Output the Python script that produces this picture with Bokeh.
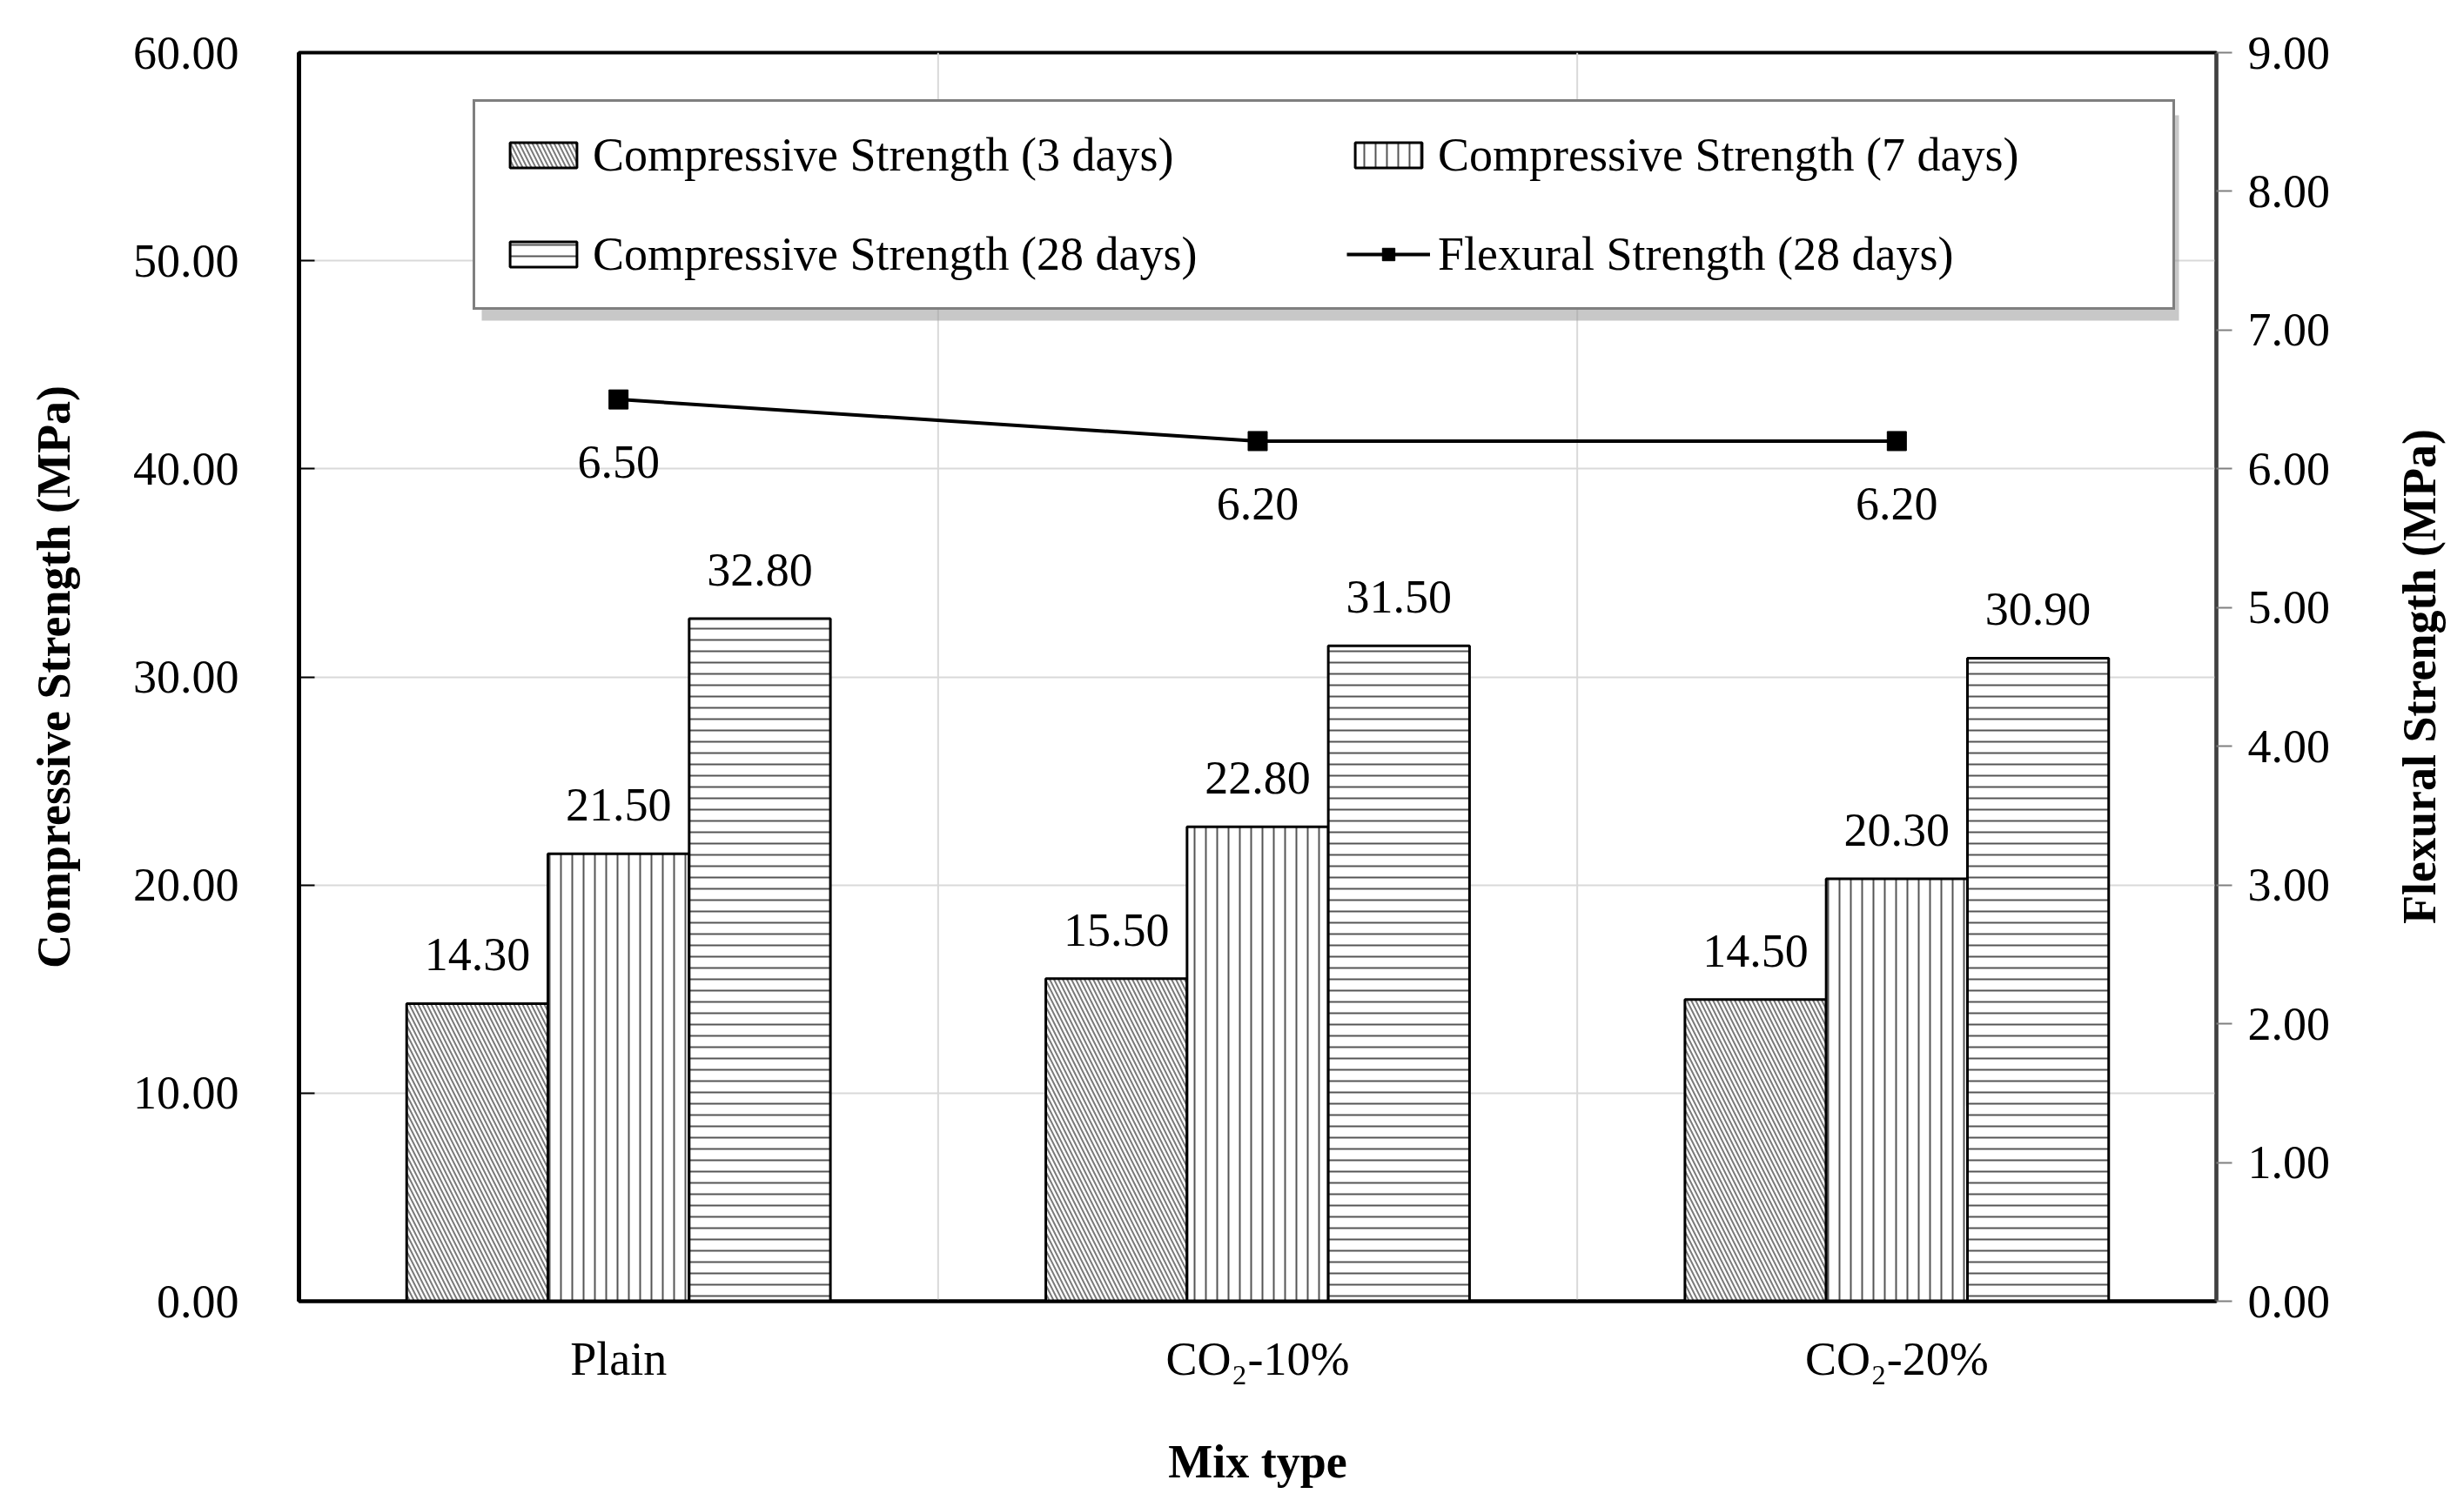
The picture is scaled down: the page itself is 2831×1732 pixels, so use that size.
import math
from bokeh.plotting import figure
from bokeh.layouts import row
from bokeh.models import (ColumnDataSource, FactorRange, Range1d, LinearAxis, FixedTicker,
                          PrintfTickFormatter, Legend, LegendItem, Span, Div, BoxAnnotation)
from bokeh.transform import dodge
from bokeh.core.properties import value
from bokeh.embed import file_html
from bokeh.resources import INLINE

categories = ["Plain", "CO₂-10%", "CO₂-20%"]
cs_3d = [14.30, 15.50, 14.50]
cs_7d = [21.50, 22.80, 20.30]
cs_28d = [32.80, 31.50, 30.90]
fs_28d = [6.50, 6.20, 6.20]
left_ticks = [0, 10, 20, 30, 40, 50, 60]
right_ticks = [0, 1, 2, 3, 4, 5, 6, 7, 8, 9]
series_names = ["Compressive Strength (3 days)", "Compressive Strength (7 days)",
                "Compressive Strength (28 days)", "Flexural Strength (28 days)"]
right_title = "Flexural Strength (MPa)"

FONT = "Liberation Serif"
FS = "54px"
BW = 0.221

PW, PH = 2700, 1714
ML, MR, MT, MB = 343, 154, 60, 219

src = ColumnDataSource(dict(
    cat=categories, d3=cs_3d, d7=cs_7d, d28=cs_28d, fs=fs_28d,
    l3=[f"{v:.2f}" for v in cs_3d], l7=[f"{v:.2f}" for v in cs_7d],
    l28=[f"{v:.2f}" for v in cs_28d], lfs=[f"{v:.2f}" for v in fs_28d],
))

p = figure(x_range=FactorRange(*categories), y_range=Range1d(0, 60),
           width=PW, height=PH, output_backend="svg", toolbar_location=None,
           min_border_left=ML, min_border_right=MR, min_border_top=MT, min_border_bottom=MB)
p.extra_y_ranges = {"right": Range1d(0, 9)}
p.outline_line_color = "black"
p.outline_line_width = 4
p.background_fill_color = "white"
p.border_fill_color = "white"

# grids
p.xgrid.grid_line_color = None
p.ygrid.grid_line_color = "#d9d9d9"
p.ygrid.grid_line_width = 2
p.ygrid.ticker = FixedTicker(ticks=left_ticks)
for i in range(1, len(categories)):
    p.add_layout(Span(location=i, dimension="height", line_color="#d9d9d9",
                      line_width=2, level="underlay"))

hatch_kw = dict(fill_color="white", line_color="black", line_width=3, hatch_weight=2)
b3 = p.vbar(x=dodge("cat", -BW, range=p.x_range), top="d3", width=BW, source=src,
            hatch_pattern="left_diagonal_line", hatch_scale=10, hatch_color="#7a7a7a", **hatch_kw)
b7 = p.vbar(x=dodge("cat", 0, range=p.x_range), top="d7", width=BW, source=src,
            hatch_pattern="vertical_line", hatch_scale=13, hatch_color="#555555", **hatch_kw)
b28 = p.vbar(x=dodge("cat", BW, range=p.x_range), top="d28", width=BW, source=src,
             hatch_pattern="horizontal_line", hatch_scale=13, hatch_color="#555555", **hatch_kw)

txt_kw = dict(text_align="center", text_baseline="middle", text_font=value(FONT),
              text_font_size=FS, text_color="black", source=src)
p.text(x=dodge("cat", -BW, range=p.x_range), y="d3", text="l3", y_offset=-56, **txt_kw)
p.text(x=dodge("cat", 0, range=p.x_range), y="d7", text="l7", y_offset=-56, **txt_kw)
p.text(x=dodge("cat", BW, range=p.x_range), y="d28", text="l28", y_offset=-56, **txt_kw)

fl = p.line(x="cat", y="fs", y_range_name="right", source=src, line_color="black", line_width=4)
fm = p.scatter(x="cat", y="fs", y_range_name="right", source=src, marker="square", size=22,
               fill_color="black", line_color="black")
p.text(x="cat", y="fs", text="lfs", y_range_name="right", y_offset=72, **txt_kw)

# left axis
ly = p.left[0]
ly.ticker = FixedTicker(ticks=left_ticks)
ly.formatter = PrintfTickFormatter(format="%.2f")
ly.axis_label = "Compressive Strength (MPa)"
ly.axis_label_text_font = FONT
ly.axis_label_text_font_style = "bold"
ly.axis_label_text_font_size = FS
ly.axis_label_text_color = "black"
ly.axis_label_standoff = 58
ly.major_label_text_font = FONT
ly.major_label_text_font_size = FS
ly.major_label_text_color = "black"
ly.major_label_standoff = 69
ly.major_tick_in = 18
ly.major_tick_out = 0
ly.major_tick_line_width = 2
ly.major_tick_line_color = "black"
ly.minor_tick_line_color = None
ly.axis_line_color = "black"
ly.axis_line_width = 5

# bottom axis
bx = p.below[0]
bx.axis_label = "Mix type"
bx.axis_label_text_font = FONT
bx.axis_label_text_font_style = "bold"
bx.axis_label_text_font_size = FS
bx.axis_label_text_color = "black"
bx.axis_label_standoff = 55
bx.major_label_text_font = FONT
bx.major_label_text_font_size = FS
bx.major_label_text_color = "black"
bx.major_label_standoff = 30
bx.major_tick_line_color = None
bx.minor_tick_line_color = None
bx.axis_line_color = "black"
bx.axis_line_width = 4

# right axis
ry = LinearAxis(y_range_name="right", ticker=FixedTicker(ticks=right_ticks),
                formatter=PrintfTickFormatter(format="%.2f"))
ry.major_label_text_font = FONT
ry.major_label_text_font_size = FS
ry.major_label_text_color = "black"
ry.major_label_standoff = 18
ry.major_tick_in = 0
ry.major_tick_out = 18
ry.major_tick_line_width = 2
ry.major_tick_line_color = "#808080"
ry.minor_tick_line_color = None
ry.axis_line_color = "#404040"
ry.axis_line_width = 4
p.add_layout(ry, "right")

# legend geometry (screen units relative to the frame)
LX, LB, LW, LH = 200, 1139, 1950, 236

p.add_layout(BoxAnnotation(left=LX + 10, right=LX + LW + 10, bottom=LB - 12, top=LB + LH - 12,
                           left_units="screen", right_units="screen",
                           bottom_units="screen", top_units="screen",
                           fill_color="#9a9a9a", fill_alpha=0.55, line_color=None))

legend = Legend(items=[LegendItem(label=series_names[0], renderers=[b3]),
                       LegendItem(label=series_names[1], renderers=[b7]),
                       LegendItem(label=series_names[2], renderers=[b28]),
                       LegendItem(label=series_names[3], renderers=[fl, fm])],
                location=(LX, LB), orientation="horizontal", ncols=2,
                label_text_font=FONT, label_text_font_size=FS, label_text_color="black",
                glyph_width=96, glyph_height=36, label_standoff=9,
                label_width=814, spacing=52, padding=30, margin=0,
                border_line_color="black", border_line_width=3,
                background_fill_color="white", background_fill_alpha=1.0)
p.add_layout(legend)

# right-hand axis title, reading bottom to top
frame_h = PH - MT - MB
title_html = (
    f'<div style="margin-left:48px; margin-top:{MT}px; height:{frame_h}px; width:64px; '
    f'line-height:64px; writing-mode:vertical-rl; transform:rotate(180deg); '
    f'text-align:center; font-family:\'{FONT}\'; font-weight:bold; font-size:{FS}; '
    f'color:black; white-space:nowrap;">{right_title}</div>'
)
div = Div(text=title_html, width=120, height=PH, margin=0)

layout = row(p, div, spacing=0)
open("out.html", "w").write(file_html(layout, INLINE))
